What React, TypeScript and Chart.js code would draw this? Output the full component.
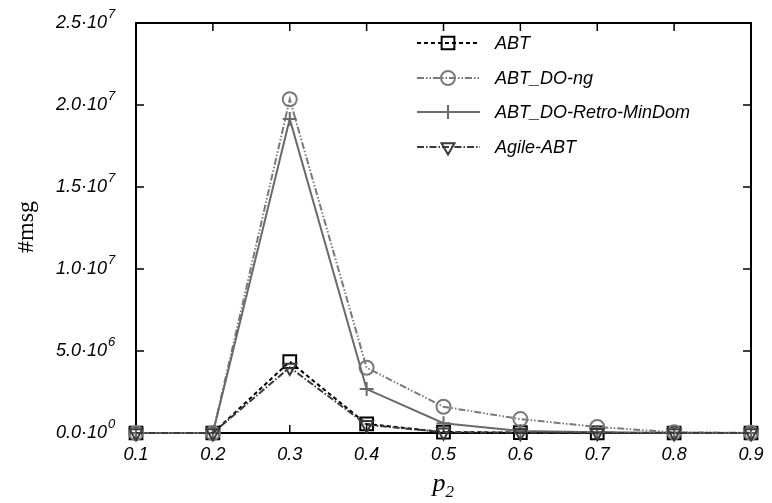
import React, { useEffect, useRef } from 'react';
import { Chart, registerables } from 'chart.js';

Chart.register(...registerables);

const xLabels = ['0.1', '0.2', '0.3', '0.4', '0.5', '0.6', '0.7', '0.8', '0.9'];
const abt = [0, 0, 4.35e6, 0.55e6, 0.06e6, 0.02e6, 0.01e6, 0, 0];
const abtDoNg = [0, 0, 2.035e7, 3.98e6, 1.6e6, 0.85e6, 0.37e6, 0.04e6, 0.01e6];
const abtDoRetro = [0, 0, 1.915e7, 2.68e6, 0.6e6, 0.12e6, 0.05e6, 0.01e6, 0];
const agileAbt = [0, 0, 4.0e6, 0.5e6, 0.05e6, 0.02e6, 0.01e6, 0, 0];
const seriesNames = ['ABT', 'ABT_DO-ng', 'ABT_DO-Retro-MinDom', 'Agile-ABT'];
const yTickValues = [0, 5e6, 1e7, 1.5e7, 2e7, 2.5e7];
const yTickMantissas = ['0.0·10', '5.0·10', '1.0·10', '1.5·10', '2.0·10', '2.5·10'];
const yTickExponents = ['0', '6', '7', '7', '7', '7'];

const TICK_FONT = { family: 'Liberation Sans', size: 18, style: 'italic' as const };

const styles = [
  { color: '#000000', dash: [4, 3], marker: 'rect', radius: 9, width: 2 },
  { color: '#7a7a7a', dash: [7, 2, 1.5, 2, 1.5, 2], marker: 'circle', radius: 7, width: 2 },
  { color: '#6a6a6a', dash: [], marker: 'cross', radius: 7, width: 2 },
  { color: '#3a3a3a', dash: [7, 2, 1.5, 2], marker: 'triangle', radius: 7.5, width: 2 },
];

function drawMarker(ctx: CanvasRenderingContext2D, kind: string, x: number, y: number, r: number) {
  ctx.beginPath();
  if (kind === 'rect') {
    const s = Math.SQRT1_2 * r;
    ctx.rect(x - s, y - s, 2 * s, 2 * s);
  } else if (kind === 'circle') {
    ctx.arc(x, y, r, 0, Math.PI * 2);
  } else if (kind === 'cross') {
    ctx.moveTo(x - r, y);
    ctx.lineTo(x + r, y);
    ctx.moveTo(x, y - r);
    ctx.lineTo(x, y + r);
  } else if (kind === 'triangle') {
    let a = Math.PI;
    ctx.moveTo(x + Math.sin(a) * r, y - Math.cos(a) * r);
    a += (2 * Math.PI) / 3;
    ctx.lineTo(x + Math.sin(a) * r, y - Math.cos(a) * r);
    a += (2 * Math.PI) / 3;
    ctx.lineTo(x + Math.sin(a) * r, y - Math.cos(a) * r);
    ctx.closePath();
  }
  ctx.stroke();
}

const framePlugin = {
  id: 'frame',
  beforeDatasetsDraw(chart: any) {
    const { ctx, chartArea } = chart;
    const { left, right, top, bottom } = chartArea;
    const xs = chart.scales.x;
    const ys = chart.scales.y;
    ctx.save();
    ctx.strokeStyle = '#000';
    ctx.lineWidth = 1.5;
    ctx.beginPath();
    const tl = 8;
    xs.ticks.forEach((_t: any, i: number) => {
      const px = xs.getPixelForTick(i);
      ctx.moveTo(px, bottom);
      ctx.lineTo(px, bottom - tl);
      ctx.moveTo(px, top);
      ctx.lineTo(px, top + tl);
    });
    ys.ticks.forEach((_t: any, i: number) => {
      const py = ys.getPixelForTick(i);
      ctx.moveTo(left, py);
      ctx.lineTo(left + tl, py);
      ctx.moveTo(right, py);
      ctx.lineTo(right - tl, py);
    });
    ctx.stroke();
    ctx.lineWidth = 2;
    ctx.strokeRect(left, top, right - left, bottom - top);
    ctx.restore();
  },
  afterDraw(chart: any) {
    const { ctx, chartArea } = chart;
    const ys = chart.scales.y;
    ctx.save();
    // y tick exponents (superscripts)
    ctx.fillStyle = '#000';
    ctx.font = 'italic 13px "Liberation Sans"';
    ctx.textAlign = 'left';
    ctx.textBaseline = 'middle';
    yTickValues.forEach((v, i) => {
      const py = ys.getPixelForValue(v);
      ctx.fillText(yTickExponents[i], 108, py - 9);
    });
    // legend
    const rowY = [43, 78, 112, 147];
    chart.data.datasets.forEach((ds: any, i: number) => {
      const st = styles[i];
      const y = rowY[i];
      ctx.strokeStyle = st.color;
      ctx.lineWidth = st.width;
      ctx.setLineDash(st.dash);
      ctx.beginPath();
      ctx.moveTo(417, y);
      ctx.lineTo(480, y);
      ctx.stroke();
      ctx.setLineDash([]);
      drawMarker(ctx, st.marker, 448, y, st.radius);
      ctx.fillStyle = '#000';
      ctx.font = 'italic 18px "Liberation Sans"';
      ctx.textAlign = 'left';
      ctx.textBaseline = 'middle';
      ctx.fillText(ds.label, 495, y + 1);
    });
    // y title
    ctx.save();
    ctx.translate(27, 227);
    ctx.rotate(-Math.PI / 2);
    ctx.font = '24px "Liberation Serif"';
    ctx.textAlign = 'center';
    ctx.textBaseline = 'middle';
    ctx.fillStyle = '#000';
    ctx.fillText('#msg', 0, 0);
    ctx.restore();
    // x title
    const cx = (chartArea.left + chartArea.right) / 2;
    ctx.fillStyle = '#000';
    ctx.textBaseline = 'alphabetic';
    ctx.textAlign = 'left';
    ctx.font = 'italic 26px "Liberation Serif"';
    ctx.fillText('p', cx - 11, 491);
    ctx.font = 'italic 17px "Liberation Serif"';
    ctx.fillText('2', cx + 2, 497);
    ctx.restore();
  },
};

export default function App() {
  const ref = useRef<HTMLCanvasElement>(null);
  useEffect(() => {
    document.body.style.margin = '0';
    const series = [abt, abtDoNg, abtDoRetro, agileAbt];
    const orders = [3, 2, 1, 0];
    const chart = new Chart(ref.current!, {
      type: 'line',
      data: {
        labels: xLabels,
        datasets: series.map((d, i) => ({
          label: seriesNames[i],
          data: d,
          borderColor: styles[i].color,
          borderWidth: styles[i].width,
          borderDash: styles[i].dash,
          pointStyle: styles[i].marker,
          rotation: styles[i].marker === 'triangle' ? 180 : 0,
          pointRadius: styles[i].radius,
          pointBorderWidth: 2,
          pointBorderColor: styles[i].color,
          pointBackgroundColor: 'rgba(0,0,0,0)',
          fill: false,
          tension: 0,
          clip: false as any,
          order: orders[i],
        })) as any,
      },
      options: {
        animation: false,
        responsive: false,
        layout: { padding: { top: 23, right: 21, left: 0, bottom: 0 } },
        plugins: { legend: { display: false }, tooltip: { enabled: false } },
        scales: {
          x: {
            type: 'category',
            offset: false,
            grid: { display: false, drawTicks: false },
            border: { display: false },
            ticks: { font: TICK_FONT, color: '#000', padding: 11, maxRotation: 0, autoSkip: false },
            afterFit: (s: any) => {
              s.height = 70;
              s.paddingLeft = 0;
              s.paddingRight = 0;
            },
          },
          y: {
            type: 'linear',
            min: 0,
            max: 2.5e7,
            grid: { display: false, drawTicks: false },
            border: { display: false },
            afterBuildTicks: (s: any) => { s.ticks = yTickValues.map((v) => ({ value: v })); },
            ticks: {
              font: TICK_FONT,
              color: '#000',
              padding: 29,
              callback: (v: any) => {
                const idx = yTickValues.indexOf(Number(v));
                return idx >= 0 ? yTickMantissas[idx] : '';
              },
            },
            afterFit: (s: any) => {
              s.width = 136;
              s.paddingTop = 0;
              s.paddingBottom = 0;
            },
          },
        },
      },
      plugins: [framePlugin],
    });
    return () => chart.destroy();
  }, []);
  return (
    <div style={{ width: 772, height: 503 }}>
      <canvas ref={ref} width={772} height={503} style={{ display: 'block' }} />
    </div>
  );
}
